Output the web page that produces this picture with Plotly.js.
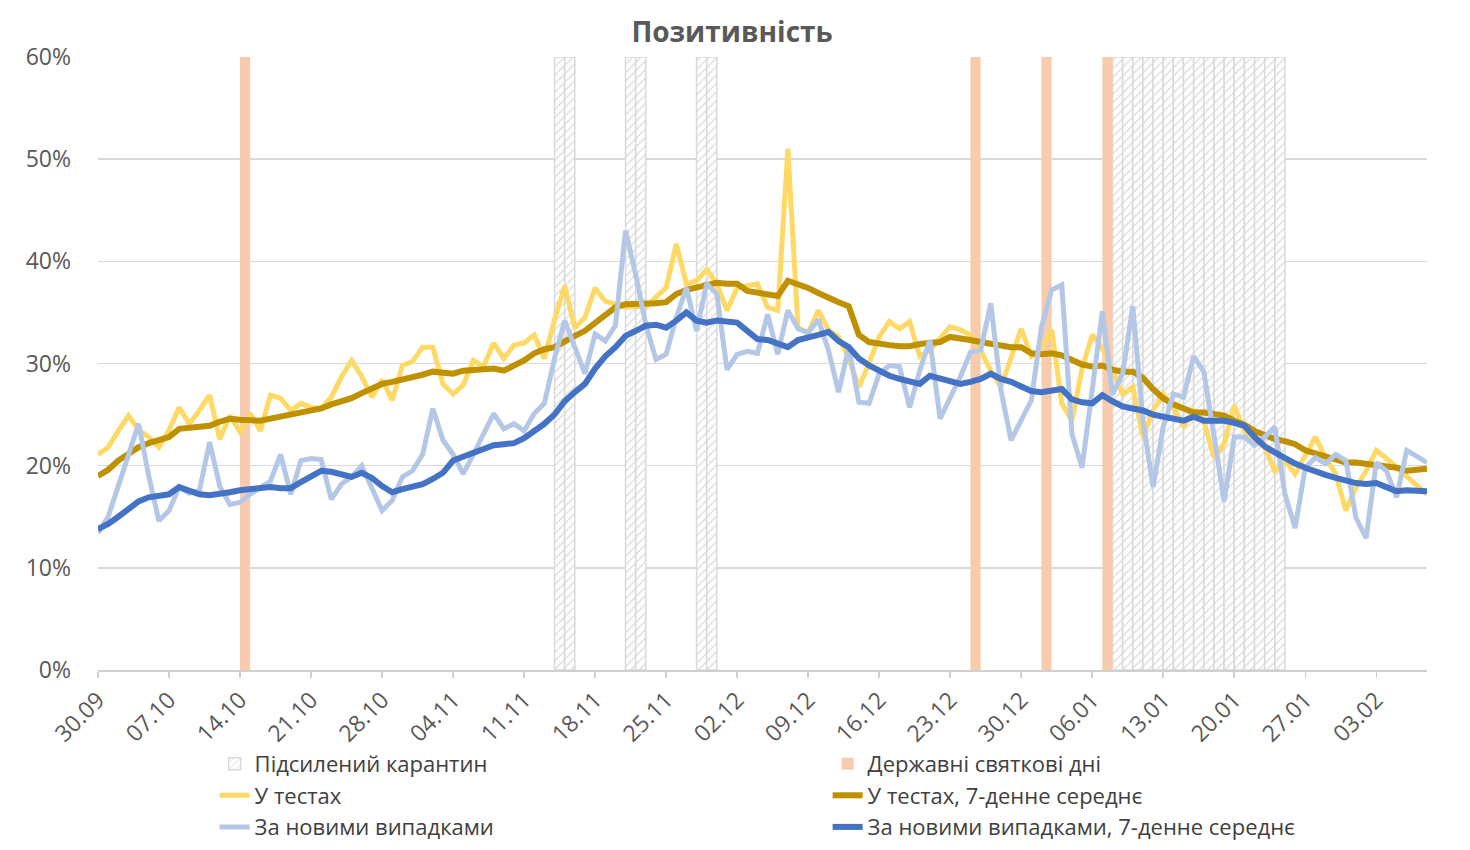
<!DOCTYPE html>
<html>
<head>
<meta charset="utf-8">
<script src="https://cdn.plot.ly/plotly-3.0.1.min.js"></script>
<style>
  html, body { margin: 0; padding: 0; background: #fff; }
  #chart { width: 1470px; height: 850px; }
</style>
</head>
<body>
<div id="chart"></div>
<script>
// daily positivity, % (30.09.2020 - 08.02.2021)
var startDate = '2020-09-30';

var inTests = [
  21.1, 21.8, 23.4, 24.9, 23.5, 22.8, 21.8, 23.5, 25.7, 24.1,
  25.4, 26.9, 22.6, 24.9, 23.3, 25.1, 23.4, 26.9, 26.6, 25.4,
  26.1, 25.7, 25.6, 26.7, 28.7, 30.3, 28.7, 26.7, 28.4, 26.4,
  29.8, 30.2, 31.6, 31.6, 28.0, 27.0, 27.9, 30.3, 29.7, 32.0,
  30.5, 31.8, 32.0, 32.8, 30.5, 34.3, 37.6, 33.5, 34.5, 37.4,
  36.1, 35.8, 35.5, 35.6, 35.5, 36.5, 37.4, 41.7, 37.8, 38.1,
  39.2, 37.8, 35.2, 37.4, 37.6, 37.8, 35.5, 35.2, 51.0, 33.5,
  33.0, 35.2, 33.3, 32.6, 30.5, 27.7, 30.0, 32.6, 34.1, 33.4,
  34.1, 30.7, 31.3, 32.5, 33.6, 33.3, 32.8, 31.3, 29.3, 27.7,
  30.7, 33.4, 30.7, 31.5, 33.3, 26.1, 24.4, 29.5, 32.8, 31.5,
  29.3, 27.0, 27.7, 22.8, 25.4, 27.0, 25.7, 23.8, 25.4, 24.4,
  20.8, 22.1, 25.9, 23.4, 22.5, 21.8, 19.5, 20.5, 19.2, 21.1,
  22.8, 20.8, 19.2, 15.6, 17.9, 19.5, 21.5, 20.7, 19.8, 18.9,
  18.0, 17.2
];

var inTests7d = [
  19.0, 19.6, 20.5, 21.2, 21.8, 22.2, 22.5, 22.8, 23.6, 23.7,
  23.8, 23.9, 24.3, 24.6, 24.5, 24.4, 24.4, 24.6, 24.8, 24.9,
  25.1, 25.4, 25.6, 26.0, 26.3, 26.6, 27.1, 27.5, 28.0, 28.2,
  28.4, 28.7, 28.9, 29.2, 29.1, 29.0, 29.3, 29.4, 29.5, 29.5,
  29.3, 29.8, 30.3, 31.0, 31.4, 31.6, 32.2, 32.7, 33.2, 34.0,
  34.8, 35.5, 35.8, 35.8, 35.8, 35.9, 36.0, 36.8, 37.2, 37.4,
  37.6, 37.9, 37.8, 37.8, 37.1, 36.9, 36.7, 36.6, 38.1, 37.8,
  37.4, 36.9, 36.4, 36.0, 35.6, 32.8, 32.1, 31.9, 31.8, 31.7,
  31.7, 31.9, 32.0, 32.1, 32.6, 32.5, 32.3, 32.1, 31.9, 31.7,
  31.6, 31.6, 31.0, 30.9, 31.0, 30.8, 30.4, 29.9, 29.7, 29.8,
  29.4, 29.2, 29.2, 28.6, 27.5, 26.6, 26.0, 25.6, 25.2, 25.2,
  25.0, 24.9, 24.4, 24.0, 23.4, 23.0, 22.6, 22.4, 22.1, 21.5,
  21.2, 20.9, 20.6, 20.3, 20.3, 20.2, 20.1, 20.0, 19.8, 19.5,
  19.6, 19.7
];

var newCases = [
  13.4, 15.0, 18.0, 21.0, 24.1, 19.0, 14.6, 15.6, 17.9, 17.3,
  17.6, 22.3, 18.0, 16.2, 16.4, 17.2, 17.9, 18.5, 21.1, 17.2,
  20.5, 20.7, 20.6, 16.7, 18.2, 18.9, 20.0, 17.9, 15.6, 16.6,
  18.9, 19.5, 21.1, 25.6, 22.5, 21.1, 19.2, 21.1, 23.1, 25.1,
  23.6, 24.1, 23.4, 25.1, 26.1, 30.5, 34.2, 31.6, 29.0, 32.9,
  32.2, 33.7, 43.0, 38.7, 33.8, 30.4, 30.9, 34.5, 37.4, 33.2,
  37.8, 36.8, 29.4, 30.9, 31.2, 31.0, 34.8, 30.9, 35.2, 33.4,
  33.0, 34.3, 31.3, 27.2, 31.6, 26.2, 26.1, 29.0, 29.8, 29.7,
  25.7, 29.3, 32.3, 24.6, 26.7, 28.7, 31.1, 31.3, 35.9, 27.4,
  22.5, 24.4, 26.4, 33.6, 37.2, 37.7, 23.1, 19.8, 27.0, 35.1,
  27.0, 29.0, 35.6, 24.4, 17.9, 23.8, 27.0, 26.7, 30.7, 29.2,
  23.0, 16.5, 22.8, 22.8, 22.0, 22.8, 23.8, 17.2, 13.9, 19.8,
  20.8, 20.2, 21.1, 20.5, 14.9, 12.9, 20.3, 19.5, 16.9, 21.5,
  20.9, 20.3
];

var newCases7d = [
  13.8, 14.3, 15.0, 15.8, 16.5, 16.9, 17.1, 17.2, 17.9, 17.5,
  17.2, 17.1, 17.2, 17.4, 17.6, 17.7, 17.8, 17.9, 17.8, 17.8,
  18.4, 19.0, 19.5, 19.4, 19.2, 18.9, 19.3, 18.8, 18.0, 17.4,
  17.7, 18.0, 18.2, 18.7, 19.3, 20.5, 20.9, 21.2, 21.6, 22.0,
  22.1, 22.2, 22.7, 23.4, 24.1, 25.0, 26.3, 27.2, 28.0, 29.5,
  30.7, 31.6, 32.7, 33.2, 33.7, 33.8, 33.5, 34.2, 35.0, 34.2,
  34.0, 34.2, 34.1, 34.0, 33.2, 32.4, 32.3, 31.9, 31.6, 32.3,
  32.5, 32.8, 33.1, 32.2, 31.6, 30.5, 29.8, 29.3, 28.8, 28.5,
  28.2, 28.0, 28.8, 28.5, 28.3, 28.0, 28.2, 28.5, 29.0, 28.5,
  28.2, 27.7, 27.3, 27.2, 27.3, 27.5, 26.5, 26.2, 26.1, 26.9,
  26.3, 25.8, 25.6, 25.4, 25.0, 24.8, 24.5, 24.4, 24.8, 24.4,
  24.4, 24.4, 24.2, 23.9, 22.8, 21.9, 21.3, 20.7, 20.2, 19.8,
  19.4, 19.1, 18.8, 18.5, 18.3, 18.2, 18.3, 17.9, 17.5, 17.6,
  17.5, 17.5
];

var quarantineDays = [
  '2020-11-14', '2020-11-15', '2020-11-21', '2020-11-22', '2020-11-28', '2020-11-29',
  '2021-01-08', '2021-01-09', '2021-01-10', '2021-01-11', '2021-01-12', '2021-01-13',
  '2021-01-14', '2021-01-15', '2021-01-16', '2021-01-17', '2021-01-18', '2021-01-19',
  '2021-01-20', '2021-01-21', '2021-01-22', '2021-01-23', '2021-01-24'
];
var holidayDays = ['2020-10-14', '2020-12-25', '2021-01-01', '2021-01-07'];

var DAY = 86400000;
var dates = [];
var t0 = new Date(startDate + 'T00:00:00Z').getTime();
for (var i = 0; i < inTests.length; i++) {
  dates.push(new Date(t0 + i * DAY).toISOString().slice(0, 10));
}
function pct(arr) { return arr.map(function (v) { return v / 100; }); }
function full(arr) { return arr.map(function () { return 0.6; }); }

var FONT = 'Open Sans, Liberation Sans, sans-serif';

var quarantine = {
  x: quarantineDays, y: full(quarantineDays), type: 'bar',
  name: 'Підсилений карантин',
  width: DAY, offset: 0,
  marker: {
    color: '#ffffff',
    pattern: { shape: '/', fgcolor: '#d9d9d9', bgcolor: '#ffffff', size: 6, solidity: 0.2 },
    line: { color: '#d9d9d9', width: 1.5 }
  },
  hoverinfo: 'skip'
};
var holidays = {
  x: holidayDays, y: full(holidayDays), type: 'bar',
  name: 'Державні святкові дні',
  width: DAY, offset: 0,
  marker: { color: '#f8cbad', line: { width: 0 } },
  hoverinfo: 'skip'
};
var tests = {
  x: dates, y: pct(inTests), type: 'scatter', mode: 'lines',
  name: 'У тестах', line: { color: '#ffd966', width: 5 }
};
var tests7 = {
  x: dates, y: pct(inTests7d), type: 'scatter', mode: 'lines',
  name: 'У тестах, 7-денне середнє', line: { color: '#bf9000', width: 6 }
};
var cases = {
  x: dates, y: pct(newCases), type: 'scatter', mode: 'lines',
  name: 'За новими випадками', line: { color: '#b4c7e7', width: 5 }
};
var cases7 = {
  x: dates, y: pct(newCases7d), type: 'scatter', mode: 'lines',
  name: 'За новими випадками, 7-денне середнє', line: { color: '#4472c4', width: 6 }
};

var layout = {
  width: 1470, height: 850,
  margin: { l: 98, r: 43, t: 57, b: 180 },
  paper_bgcolor: '#ffffff', plot_bgcolor: '#ffffff',
  font: { family: FONT, color: '#595959' },
  title: {
    text: 'Позитивність',
    font: { family: FONT, size: 28, color: '#595959', weight: 'bold' },
    xref: 'container', x: 0.498, y: 0.962, yanchor: 'middle'
  },
  barmode: 'overlay',
  showlegend: true,
  xaxis: {
    type: 'date',
    range: ['2020-09-30', '2021-02-08'],
    tick0: '2020-09-30', dtick: 7 * DAY,
    tickformat: '%d.%m', tickangle: -45,
    tickfont: { size: 23, color: '#595959' },
    ticks: 'outside', ticklen: 6, tickcolor: '#d0d0d0', tickwidth: 1.5,
    showline: true, linecolor: '#d0d0d0', linewidth: 1.5,
    showgrid: false, zeroline: false, fixedrange: true, automargin: false
  },
  yaxis: {
    range: [0, 0.6], dtick: 0.1, tickformat: '.0%',
    tickfont: { size: 23, color: '#595959' },
    gridcolor: '#d9d9d9', gridwidth: 1.5,
    zeroline: false, showline: false, ticks: '',
    ticklabelstandoff: 26, fixedrange: true, automargin: false
  },
  legend: {
    orientation: 'h',
    xref: 'container', x: 0.146, xanchor: 'left',
    yref: 'container', y: 0.126, yanchor: 'top',
    entrywidth: 568, entrywidthmode: 'pixels',
    font: { family: FONT, size: 22, color: '#404040' },
    traceorder: 'normal',
    bgcolor: 'rgba(0,0,0,0)'
  }
};

Plotly.newPlot('chart', [quarantine, holidays, tests, tests7, cases, cases7], layout, { displayModeBar: false, staticPlot: true });
</script>
</body>
</html>
